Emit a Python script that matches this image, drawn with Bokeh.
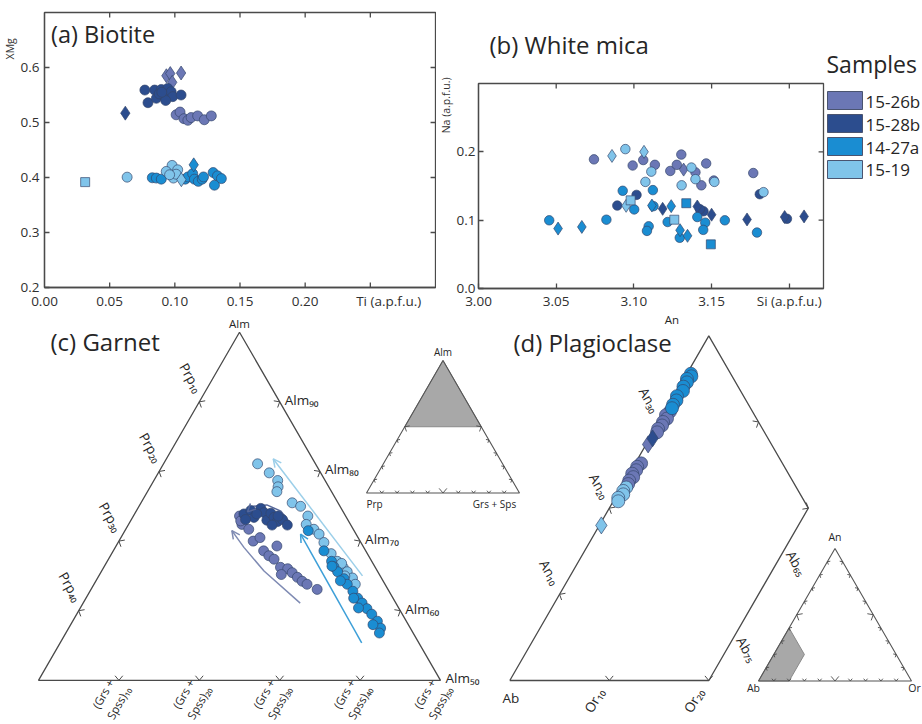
import numpy as np
from bokeh.plotting import figure
from bokeh.layouts import row, column
from bokeh.models import (Range1d, LinearAxis, FixedTicker, PrintfTickFormatter,
                          Label, Arrow, OpenHead, ColumnDataSource, Title)
from bokeh.embed import file_html
from bokeh.resources import INLINE
from bokeh.core.properties import value

FONT = "Open Sans"
AXC = "#4a4a4a"
TXT = "#262626"
EDGE = "#34466b"

# ---------------- data ----------------
samples = ["15-26b", "15-28b", "14-27a", "15-19"]
sample_colors = ["#6b77b5", "#2c4d8e", "#1a8dd2", "#80c4ea"]

# (a) Biotite: Ti (a.p.f.u.), XMg ; markers o=circle d=diamond s=square
bt_1526b_ti = [0.101, 0.104, 0.107, 0.110, 0.1125, 0.1175, 0.1226, 0.128, 0.0935, 0.0965, 0.1048, 0.098]
bt_1526b_xmg = [0.514, 0.519, 0.507, 0.504, 0.509, 0.512, 0.505, 0.512, 0.585, 0.589, 0.590, 0.573]
bt_1526b_mk = "oooooooodddd"
bt_1528b_ti = [0.077, 0.0794, 0.0845, 0.0858, 0.0896, 0.092, 0.0946, 0.0972, 0.0984, 0.1048, 0.088, 0.093, 0.090, 0.062]
bt_1528b_xmg = [0.559, 0.536, 0.559, 0.544, 0.560, 0.547, 0.562, 0.556, 0.547, 0.550, 0.552, 0.540, 0.555, 0.517]
bt_1528b_mk = "oooooooooooood"
bt_1427a_ti = [0.0827, 0.0858, 0.0896, 0.108, 0.110, 0.1137, 0.115, 0.118, 0.121, 0.122, 0.1294, 0.1327, 0.1357, 0.1304, 0.1145]
bt_1427a_xmg = [0.3995, 0.399, 0.397, 0.397, 0.401, 0.407, 0.397, 0.393, 0.397, 0.401, 0.409, 0.403, 0.398, 0.386, 0.423]
bt_1427a_mk = "ooooooooooooood"
bt_1519_ti = [0.0634, 0.0979, 0.0934, 0.0989, 0.1022, 0.101, 0.096, 0.105, 0.0312]
bt_1519_xmg = [0.4006, 0.422, 0.411, 0.399, 0.414, 0.406, 0.405, 0.396, 0.3916]
bt_1519_mk = "ooooooods"

# (b) White mica: Si (a.p.f.u.), Na (a.p.f.u.)
wm_1526b_si = [3.0743, 3.0992, 3.106, 3.1135, 3.1234, 3.1276, 3.1305, 3.1396, 3.1434, 3.1465, 3.1514, 3.1768, 3.132]
wm_1526b_na = [0.189, 0.180, 0.188, 0.181, 0.172, 0.181, 0.196, 0.170, 0.151, 0.183, 0.158, 0.169, 0.174]
wm_1526b_mk = "ooooooooooood"
wm_1528b_si = [3.0893, 3.1017, 3.181, 3.1985, 3.1448, 3.1425, 3.1185, 3.150, 3.1728, 3.2095, 3.197, 3.1408]
wm_1528b_na = [0.1214, 0.137, 0.138, 0.102, 0.113, 0.116, 0.1166, 0.108, 0.101, 0.1055, 0.1046, 0.120]
wm_1528b_mk = "oooooodddddd"
wm_1427a_si = [3.0455, 3.0823, 3.0928, 3.1002, 3.1122, 3.1095, 3.1084, 3.1126, 3.1217, 3.1295, 3.1408, 3.1459,
               3.1446, 3.1585, 3.1792, 3.0512, 3.0665, 3.1116, 3.124, 3.1297, 3.1345, 3.1337, 3.1495]
wm_1427a_na = [0.0998, 0.1007, 0.143, 0.1157, 0.144, 0.091, 0.0843, 0.1205, 0.0973, 0.0742, 0.1046, 0.0964,
               0.0858, 0.0998, 0.0819, 0.0877, 0.0901, 0.1214, 0.1205, 0.0853, 0.0771, 0.1248, 0.0646]
wm_1427a_mk = "ooooooooooooooodddddd" + "ss"
wm_1519_si = [3.0945, 3.1112, 3.1074, 3.1307, 3.137, 3.1396, 3.1518, 3.1834, 3.0859, 3.1065, 3.095, 3.0979, 3.126]
wm_1519_na = [0.204, 0.171, 0.156, 0.151, 0.177, 0.160, 0.156, 0.141, 0.194, 0.200, 0.121, 0.129, 0.1007]
wm_1519_mk = "ooooooooddd" + "ss"

# (c) Garnet: Alm, Prp, Grs+Sps (mol %)
grt_1526b_alm = [72.4, 71.7, 70.0, 70.5, 68.6, 67.9, 67.4, 66.3, 66.1, 65.4, 64.8, 64.3, 63.8, 63.0, 69.3, 65.2, 73.6, 72.9]
grt_1526b_prp = [13.5, 13.0, 13.3, 12.2, 12.7, 12.4, 12.0, 11.8, 11.0, 10.7, 10.4, 10.1, 9.7, 8.8, 10.7, 12.2, 13.2, 13.4]
grt_1526b_gs = [14.1, 15.3, 16.7, 17.3, 18.7, 19.7, 20.6, 22.0, 23.0, 23.8, 24.8, 25.7, 26.5, 28.1, 20.0, 22.6, 13.2, 13.7]
grt_1528b_alm = [73.9, 74.4, 73.4, 74.7, 74.1, 73.0, 74.0, 73.4, 72.8, 73.1, 72.3, 72.3, 73.1, 73.9, 73.6]
grt_1528b_prp = [12.5, 11.4, 11.5, 10.0, 9.9, 10.1, 9.1, 9.0, 8.9, 8.1, 7.9, 9.8, 12.7, 10.9, 8.4]
grt_1528b_gs = [13.6, 14.2, 15.1, 15.3, 16.0, 16.9, 16.9, 17.6, 18.3, 18.8, 19.8, 17.9, 14.2, 15.2, 18.0]
grt_1427a_alm = [71.5, 68.6, 67.1, 66.3, 65.6, 64.6, 63.8, 62.8, 61.8, 61.1, 60.3, 59.5, 58.5, 57.5, 56.8, 58.0, 60.4, 61.8, 64.3, 66.4]
grt_1427a_prp = [5.7, 5.2, 5.0, 5.1, 5.0, 4.7, 4.7, 4.5, 4.4, 4.2, 4.0, 3.8, 3.6, 3.7, 4.2, 4.4, 5.0, 4.9, 5.3, 5.3]
grt_1427a_gs = [22.8, 26.2, 27.9, 28.6, 29.4, 30.7, 31.5, 32.7, 33.8, 34.7, 35.7, 36.7, 37.9, 38.8, 39.0, 37.6, 34.6, 33.3, 30.4, 28.3]
grt_1519_alm = [81.1, 79.8, 78.7, 77.8, 77.1, 75.5, 75.0, 73.6, 72.4, 71.7, 71.0, 69.8, 68.2, 67.1, 66.2, 65.6, 64.7, 63.8, 66.8, 65.0]
grt_1519_prp = [7.2, 6.4, 5.9, 6.3, 6.8, 5.7, 4.9, 4.7, 5.5, 4.9, 4.6, 4.6, 4.5, 4.3, 4.0, 3.8, 3.6, 3.7, 3.9, 4.4]
grt_1519_gs = [11.7, 13.8, 15.4, 15.9, 16.1, 18.8, 20.1, 21.7, 22.1, 23.4, 24.4, 25.6, 27.3, 28.6, 29.8, 30.6, 31.7, 32.5, 29.3, 30.6]

# zoning-trend arrows in garnet (Alm, Prp, Grs+Sps), tail -> head
arr_1519_alm, arr_1519_prp, arr_1519_gs = [65.0, 81.8], [2.2, 4.9], [32.8, 13.3]
arr_1427a_alm, arr_1427a_prp, arr_1427a_gs = [55.4, 71.0], [7.1, 6.9], [37.5, 22.1]
arr_1526b_alm, arr_1526b_prp, arr_1526b_gs = [61.1, 65.7, 69.1, 71.5], [11.9, 14.1, 14.9, 15.2], [27.0, 20.2, 16.0, 13.3]
arr_1528b_alm, arr_1528b_prp, arr_1528b_gs = [72.6, 74.3, 75.2, 75.0, 74.2], [7.4, 7.7, 9.0, 10.8, 11.9], [20.0, 18.0, 15.8, 14.2, 13.9]

# (d) Plagioclase: An, Or (mol %), Ab = remainder
pl_1526b_an = [31.2, 30.8, 30.4, 30.0, 29.6, 29.2, 28.8, 27.4, 25.2, 24.8, 24.4, 24.0, 23.6, 23.2, 22.8]
pl_1526b_or = [0.5, 0.3, 0.6, 0.4, 0.5, 0.3, 0.4, 0.2, 0.6, 0.4, 0.5, 0.3, 0.6, 0.4, 0.5]
pl_1526b_mk = "oooooood" + "ooooooo"
pl_1528b_an = [28.1]
pl_1528b_or = [0.3]
pl_1528b_mk = "d"
pl_1427a_an = [35.6, 35.3, 35.0, 34.6, 34.1, 33.6, 33.0, 32.5, 32.0, 31.6]
pl_1427a_or = [0.4, 0.6, 0.3, 0.5, 0.4, 0.6, 0.3, 0.5, 0.4, 0.5]
pl_1427a_mk = "oooooooooo"
pl_1519_an = [22.4, 22.0, 21.6, 21.2, 20.8, 18.0]
pl_1519_or = [0.5, 0.4, 0.6, 0.3, 0.5, 0.2]
pl_1519_mk = "oooood"

bt_x_ticks = [0.0, 0.05, 0.1, 0.15, 0.2, 0.25, 0.3]
bt_x_labels = [0.0, 0.05, 0.1, 0.15, 0.2]
bt_y_ticks = [0.2, 0.3, 0.4, 0.5, 0.6]
wm_x_ticks = [3.0, 3.05, 3.1, 3.15, 3.2]
wm_y_ticks = [0.0, 0.1, 0.2]

# ---------------- layout (pixel sizes) ----------------
PAGE_W, PAGE_H = 922, 724
TOP_H = 312
W_A = 436
W_B = 826 - W_A
W_L = PAGE_W - W_A - W_B
BOT_H = PAGE_H - TOP_H
MK = {"o": "circle", "d": "diamond", "s": "square"}
SUB = str.maketrans("0123456789", "\u2080\u2081\u2082\u2083\u2084\u2085\u2086\u2087\u2088\u2089")
def sub(s, n): return s + str(n).translate(SUB)
TICK_PX = 5
TICK_FONT = "13.5px"


def add_points(p, xs, ys, mk, color, sizes):
    src = ColumnDataSource(dict(x=list(xs), y=list(ys), marker=[MK[m] for m in mk],
                                size=[sizes[m] for m in mk]))
    p.scatter("x", "y", source=src, marker="marker", size="size", fill_color=color,
              line_color=EDGE, line_width=0.8, line_alpha=0.85)


def style_axis(ax, standoff, size=TICK_FONT, tick_in=TICK_PX):
    ax.axis_line_color = AXC
    ax.axis_line_width = 1.3
    ax.major_tick_line_color = AXC
    ax.major_tick_line_width = 1.3
    ax.major_tick_in = tick_in
    ax.major_tick_out = 0
    ax.minor_tick_line_color = None
    ax.major_label_text_font = FONT
    ax.major_label_text_color = "#303030"
    ax.major_label_text_font_size = size
    ax.major_label_standoff = standoff


def label_axis(p, side, tick, text, size, vertical, standoff=0):
    ax = LinearAxis(ticker=FixedTicker(ticks=[tick]), major_label_overrides={tick: text})
    ax.axis_line_color = None
    ax.major_tick_line_color = None
    ax.minor_tick_line_color = None
    ax.major_tick_in = 0
    ax.major_tick_out = 0
    ax.major_label_standoff = standoff
    ax.major_label_text_font = FONT
    ax.major_label_text_font_size = size
    ax.major_label_text_color = "#333333"
    if vertical:
        ax.major_label_orientation = "vertical"
    p.add_layout(ax, side)


def frame_ticks(p, xr, yr, fw, fh, xt_top, xt_bot, yt_right):
    dx = TICK_PX * (xr[1] - xr[0]) / fw
    dy = TICK_PX * (yr[1] - yr[0]) / fh
    x0 = list(xt_top) + list(xt_bot) + [xr[1]] * len(yt_right)
    x1 = list(xt_top) + list(xt_bot) + [xr[1] - dx] * len(yt_right)
    y0 = [yr[1]] * len(xt_top) + [yr[0]] * len(xt_bot) + list(yt_right)
    y1 = [yr[1] - dy] * len(xt_top) + [yr[0] + dy] * len(xt_bot) + list(yt_right)
    p.segment(x0, y0, x1, y1, line_color=AXC, line_width=1.3)


def clean(p):
    p.xgrid.grid_line_color = None
    p.ygrid.grid_line_color = None


# ---------------- (a) Biotite ----------------
A_L, A_T, A_FW, A_FH = 39, 12, 396, 277
A_XR, A_YR = (0.0, 0.30), (0.2, 0.7)
pa = figure(width=W_A, height=TOP_H, x_range=Range1d(*A_XR), y_range=Range1d(*A_YR),
            output_backend="svg", toolbar_location=None, title=None, frame_align=False,
            min_border_left=A_L, min_border_right=W_A - A_L - A_FW, min_border_top=A_T,
            min_border_bottom=TOP_H - A_T - A_FH)
clean(pa)
pa.outline_line_color = AXC
pa.outline_line_width = 1.3
pa.xaxis.ticker = FixedTicker(ticks=bt_x_labels + [0.2641])
pa.xaxis.formatter = PrintfTickFormatter(format="%.2f")
pa.xaxis.major_label_overrides = {0.2641: "Ti (a.p.f.u.)"}
style_axis(pa.xaxis[0], 4, tick_in=0)
pa.yaxis.ticker = FixedTicker(ticks=bt_y_ticks)
pa.yaxis.formatter = PrintfTickFormatter(format="%.1f")
style_axis(pa.yaxis[0], 5)
label_axis(pa, "left", 0.634, "XMg", "10.5px", True)
frame_ticks(pa, A_XR, A_YR, A_FW, A_FH, bt_x_ticks[1:-1], bt_x_ticks[1:-1], bt_y_ticks[1:])

bt_sizes = {"o": 10, "d": 14, "s": 9}
bt_sets = [(bt_1526b_ti, bt_1526b_xmg, bt_1526b_mk), (bt_1528b_ti, bt_1528b_xmg, bt_1528b_mk),
           (bt_1427a_ti, bt_1427a_xmg, bt_1427a_mk), (bt_1519_ti, bt_1519_xmg, bt_1519_mk)]
for (xs, ys, mk), col in zip(bt_sets, sample_colors):
    add_points(pa, xs, ys, mk, col, bt_sizes)
pa.add_layout(Label(x=0.0050, y=0.6613, text="(a) Biotite", text_font=FONT, text_font_size="23.5px",
                    text_color=TXT, text_baseline="middle", text_align="left"))

# ---------------- (b) White mica ----------------
B_L, B_T, B_FW, B_FH = 472 - W_A, 83, 351, 208
B_XR, B_YR = (3.0, 3.222), (0.0, 0.3)
pb = figure(width=W_B, height=TOP_H, x_range=Range1d(*B_XR), y_range=Range1d(*B_YR),
            output_backend="svg", toolbar_location=None, frame_align=False,
            min_border_left=B_L, min_border_right=W_B - B_L - B_FW, min_border_top=B_T,
            min_border_bottom=TOP_H - B_T - B_FH)
pb.title = Title(text="(b) White mica", align="left", offset=11, standoff=45,
                 text_font=FONT, text_font_size="24px", text_font_style="normal", text_color=TXT)
clean(pb)
pb.outline_line_color = AXC
pb.outline_line_width = 1.3
pb.xaxis.ticker = FixedTicker(ticks=wm_x_ticks)
pb.xaxis.formatter = PrintfTickFormatter(format="%.2f")
pb.xaxis.major_label_overrides = {3.2: "Si (a.p.f.u.)"}
style_axis(pb.xaxis[0], 3)
pb.yaxis.ticker = FixedTicker(ticks=wm_y_ticks)
pb.yaxis.formatter = PrintfTickFormatter(format="%.1f")
style_axis(pb.yaxis[0], 3)
label_axis(pb, "left", 0.268, "Na (a.p.f.u.)", "10.5px", True)
frame_ticks(pb, B_XR, B_YR, B_FW, B_FH, wm_x_ticks[1:], [], wm_y_ticks[1:])

wm_sizes = {"o": 9.5, "d": 13, "s": 9}
wm_sets = [(wm_1526b_si, wm_1526b_na, wm_1526b_mk), (wm_1528b_si, wm_1528b_na, wm_1528b_mk),
           (wm_1427a_si, wm_1427a_na, wm_1427a_mk), (wm_1519_si, wm_1519_na, wm_1519_mk)]
for (xs, ys, mk), col in zip(wm_sets, sample_colors):
    add_points(pb, xs, ys, mk, col, wm_sizes)

# ---------------- legend panel ----------------
pl = figure(width=W_L, height=TOP_H, x_range=Range1d(0, W_L), y_range=Range1d(TOP_H, 0),
            output_backend="svg", toolbar_location=None, title=None, min_border=0, frame_align=False,
            x_axis_type=None, y_axis_type=None)
clean(pl)
pl.outline_line_color = None
leg_top = [91 + 23 * i for i in range(len(samples))]
pl.quad(left=[1] * len(samples), right=[36] * len(samples), top=leg_top, bottom=[t + 18 for t in leg_top],
        fill_color=sample_colors, line_color="#4a5470", line_width=1)
pl.text(x=[39] * len(samples), y=[t + 9.5 for t in leg_top], text=samples, text_font=value(FONT),
        text_font_size=value("17px"), text_color=TXT, text_baseline="middle", text_align="left")
pl.text(x=[0], y=[63], text=["Samples"], text_font=value(FONT), text_font_size=value("23px"),
        text_color=TXT, text_baseline="middle", text_align="left")

# ---------------- (c)/(d) ternary panel ----------------
pt = figure(width=PAGE_W, height=BOT_H, x_range=Range1d(0, PAGE_W), y_range=Range1d(PAGE_H, TOP_H),
            output_backend="svg", toolbar_location=None, title=None, min_border=0, frame_align=False,
            x_axis_type=None, y_axis_type=None)
clean(pt)
pt.outline_line_color = None

R3 = np.sqrt(3) / 2


def tern(x0, y0, s):
    """Full ternary: left corner at (x0,y0), side s; (top, left, right) amounts."""
    def f(top, left, right):
        top = np.asarray(top, float); left = np.asarray(left, float); right = np.asarray(right, float)
        t = top + left + right
        a, r = top / t, right / t
        return x0 + s * (r + a / 2), y0 - s * a * R3
    return f


grt = tern(-163.0, 1028.0, 804.0)        # Alm top, Prp left, Grs+Sps right (Alm >= 50 shown)
grt_in = tern(366.0, 492.5, 153.0)       # garnet inset
plg = lambda an, orr: tern(509.3, 680.0, 995.0)(an, 100 - np.asarray(an, float) - np.asarray(orr, float), orr)
plg_in = lambda an, orr: tern(758.0, 680.5, 153.0)(an, 100 - np.asarray(an, float) - np.asarray(orr, float), orr)


def draw_text(xs, ys, texts, size, angle=0.0, align="center", baseline="middle", color=TXT):
    pt.text(x=list(np.atleast_1d(xs)), y=list(np.atleast_1d(ys)), text=list(texts), angle=float(np.deg2rad(angle)),
            text_font=value(FONT), text_font_size=value(f"{size}px"), text_align=align,
            text_baseline=baseline, text_color=color)


def inward(P, Q, C):
    ex, ey = Q[0] - P[0], Q[1] - P[1]
    n = np.array([-ey, ex]) / np.hypot(ex, ey)
    mx, my = (P[0] + Q[0]) / 2, (P[1] + Q[1]) / 2
    if (C[0] - mx) * n[0] + (C[1] - my) * n[1] < 0:
        n = -n
    return n


def vticks(xs, ys, n, L, color=AXC, width=1.0, half=40):
    x0, y0, x1, y1 = [], [], [], []
    h = np.deg2rad(half)
    for x, y in zip(np.atleast_1d(xs), np.atleast_1d(ys)):
        for s in (1, -1):
            c, sn = np.cos(s * h), np.sin(s * h)
            dx, dy = n[0] * c - n[1] * sn, n[0] * sn + n[1] * c
            x0.append(x); y0.append(y); x1.append(x + L * dx); y1.append(y + L * dy)
    pt.segment(x0, y0, x1, y1, line_color=color, line_width=width)


# --- garnet main triangle
gcx, gcy = grt([100, 50, 50, 100], [0, 50, 0, 0], [0, 0, 50, 0])
pt.line(gcx, gcy, line_color=AXC, line_width=1.3)
gC = (np.mean(gcx[:3]), np.mean(gcy[:3]))
gA, gP, gG = (gcx[0], gcy[0]), (gcx[1], gcy[1]), (gcx[2], gcy[2])

prp_ticks = [10, 20, 30, 40]
alm_ticks = [90, 80, 70, 60]
gs_ticks = [10, 20, 30, 40]
tx, ty = grt([100 - v for v in prp_ticks], prp_ticks, [0] * 4)
vticks(tx, ty, inward(gA, gP, gC), 6)
draw_text(tx - 8.5, ty - 24, [sub("Prp", v) for v in prp_ticks], 13.5, angle=-60)
tx, ty = grt(alm_ticks, [0] * 4, [100 - v for v in alm_ticks])
vticks(tx, ty, inward(gA, gG, gC), 6)
lx, ly = grt(alm_ticks + [50], [0] * 5, [100 - v for v in alm_ticks + [50]])
draw_text(lx + 5, ly - 2, [sub("Alm", v) for v in alm_ticks + [50]], 13.5, align="left")
tx, ty = grt([50] * 4, [50 - v for v in gs_ticks], gs_ticks)
vticks(tx, ty, inward(gP, gG, gC), 6)
lx, ly = grt([50] * 5, [50 - v for v in gs_ticks + [50]], gs_ticks + [50])
draw_text(lx - 8, ly + 18, [sub("(Grs +\nSpss)", v) for v in gs_ticks + [50]], 11.5, angle=60)
draw_text(gA[0], gA[1] - 9, ["Alm"], 11.5)


def trend(alm, prp, gs, color):
    ax_, ay_ = grt(alm, prp, gs)
    pt.line(ax_, ay_, line_color=color, line_width=1.5)
    pt.add_layout(Arrow(end=OpenHead(size=8, line_color=color, line_width=1.5), line_alpha=0,
                        x_start=ax_[-2], y_start=ay_[-2], x_end=ax_[-1], y_end=ay_[-1]))


trend(arr_1519_alm, arr_1519_prp, arr_1519_gs, "#9ccfe9")
trend(arr_1427a_alm, arr_1427a_prp, arr_1427a_gs, "#3d9fd8")
trend(arr_1526b_alm, arr_1526b_prp, arr_1526b_gs, "#7f8bb3")
trend(arr_1528b_alm, arr_1528b_prp, arr_1528b_gs, "#56679a")

grt_sets = [(grt_1526b_alm, grt_1526b_prp, grt_1526b_gs), (grt_1528b_alm, grt_1528b_prp, grt_1528b_gs),
            (grt_1519_alm, grt_1519_prp, grt_1519_gs), (grt_1427a_alm, grt_1427a_prp, grt_1427a_gs)]
grt_cols = [sample_colors[0], sample_colors[1], sample_colors[3], sample_colors[2]]
for (a, p_, g), col in zip(grt_sets, grt_cols):
    xx, yy = grt(a, p_, g)
    pt.scatter(xx, yy, marker="circle", size=10, fill_color=col, line_color=EDGE, line_width=0.8, line_alpha=0.85)

# garnet inset
ix, iy = grt_in([100, 50, 50], [0, 50, 0], [0, 0, 50])
pt.patch(ix, iy, fill_color="#a8a8a8", line_color="#8a8a8a", line_width=1)
fx_, fy_ = grt_in([100, 0, 0, 100], [0, 100, 0, 0], [0, 0, 100, 0])
pt.line(fx_, fy_, line_color="#555555", line_width=1.1)
iC = (np.mean(fx_[:3]), np.mean(fy_[:3]))
iA, iL, iR = (fx_[0], fy_[0]), (fx_[1], fy_[1]), (fx_[2], fy_[2])
for v in [10, 20, 30, 40, 50]:
    L = 5 if v == 50 else 3
    x_, y_ = grt_in([v], [100 - v], [0]); vticks(x_, y_, inward(iA, iL, iC), L, width=0.9)
    x_, y_ = grt_in([v], [0], [100 - v]); vticks(x_, y_, inward(iA, iR, iC), L, width=0.9)
for v in range(10, 100, 10):
    L = 6 if v == 50 else 3
    x_, y_ = grt_in([0], [100 - v], [v]); vticks(x_, y_, inward(iL, iR, iC), L, width=0.9)
draw_text([iA[0]], [iA[1] - 8], ["Alm"], 10)
draw_text([iL[0] + 8], [iL[1] + 11], ["Prp"], 10)
draw_text([iR[0] - 25], [iR[1] + 11], ["Grs + Sps"], 10)

# --- plagioclase main diagram (An <= 40, Or <= 20)
px_, py_ = plg([0, 0, 20, 40, 0], [0, 20, 20, 0, 0])
pt.line(px_, py_, line_color=AXC, line_width=1.3)
pC = (np.mean(px_[:4]), np.mean(py_[:4]))
pAb, pOr, pV, pAn = [(px_[i], py_[i]) for i in range(4)]
an_ticks = [10, 20, 30]
tx, ty = plg(an_ticks, [0] * 3)
vticks(tx, ty, inward(pAb, pAn, pC), 6)
draw_text(tx - 10, ty - 22, [sub("An", v) for v in an_ticks], 13.5, angle=-60)
or_ticks = [10, 20]
tx, ty = plg([0, 0], or_ticks)
vticks(tx, ty, inward(pAb, pOr, pC), 6)
draw_text(tx - 15, ty + 20, [sub("Or", v) for v in or_ticks], 13.5, angle=60)
vticks([pV[0]], [pV[1]], inward(pOr, pV, pC), 6)
tx, ty = plg([30], [10]); vticks(tx, ty, inward(pV, pAn, pC), 6)
ab_labels = [75, 65]
lx, ly = plg([100 - 20 - v for v in ab_labels], [20, 20])
draw_text(lx + 13, ly + 12, [sub("Ab", v) for v in ab_labels], 13.5, angle=-60)
draw_text([pAb[0] + 1], [pAb[1] + 17], ["Ab"], 13.5)
draw_text([pAn[0] - 37], [pAn[1] - 16], ["An"], 11.5)

pl_sets = [(pl_1526b_an, pl_1526b_or, pl_1526b_mk), (pl_1528b_an, pl_1528b_or, pl_1528b_mk),
           (pl_1427a_an, pl_1427a_or, pl_1427a_mk), (pl_1519_an, pl_1519_or, pl_1519_mk)]
for (an, orr, mk), col in zip(pl_sets, sample_colors):
    xx, yy = plg(an, orr)
    add_points(pt, xx, yy, mk, col, {"o": 13, "d": 17, "s": 12})

# plagioclase inset
qx, qy = plg_in([0, 0, 20, 40], [0, 20, 20, 0])
pt.patch(qx, qy, fill_color="#a8a8a8", line_color="#8a8a8a", line_width=1)
fx_, fy_ = plg_in([100, 0, 0, 100], [0, 0, 100, 0])
pt.line(fx_, fy_, line_color="#555555", line_width=1.1)
jC = (np.mean(fx_[:3]), np.mean(fy_[:3]))
jA, jL, jR = (fx_[0], fy_[0]), (fx_[1], fy_[1]), (fx_[2], fy_[2])
for v in range(10, 100, 10):
    L = 6 if v == 50 else 3
    x_, y_ = plg_in([v], [0]); vticks(x_, y_, inward(jA, jL, jC), L, width=0.9)
    x_, y_ = plg_in([v], [100 - v]); vticks(x_, y_, inward(jA, jR, jC), L, width=0.9)
    x_, y_ = plg_in([0], [v]); vticks(x_, y_, inward(jL, jR, jC), L, width=0.9)
draw_text([jA[0]], [jA[1] - 11], ["An"], 10.5)
draw_text([jL[0] - 5], [jL[1] + 7], ["Ab"], 10.5)
draw_text([jR[0] + 3], [jR[1] + 7], ["Or"], 10.5)

draw_text([50], [341], ["(c) Garnet"], 24, align="left")
draw_text([513], [342], ["(d) Plagioclase"], 24, align="left")

layout = column(row(pa, pb, pl), pt)
open("out.html", "w").write(file_html(layout, INLINE))
